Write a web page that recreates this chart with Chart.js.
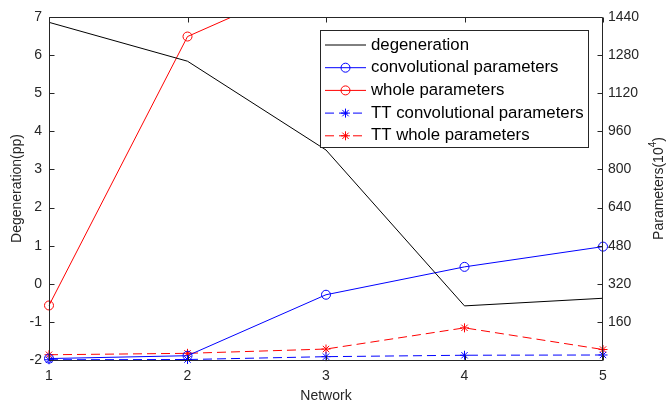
<!DOCTYPE html>
<html>
<head>
<meta charset="utf-8">
<script src="https://cdn.jsdelivr.net/npm/chart.js@4.4.0/dist/chart.umd.min.js"></script>
<style>
	html, body { margin: 0; padding: 0; background: #fff; }
	canvas { display: block; }
</style>
</head>
<body>
<canvas id="myChart" width="667" height="403"></canvas>
<script>
// values
let networks = ['1', '2', '3', '4', '5'];
let degeneration = [6.86, 5.84, 3.51, -0.58, -0.38];          // left axis (pp)
let convParams = [6, 18, 274, 391, 476];                        // right axis (10^4)
let wholeParams = [229, 1358, 1615, 1900, 2100];                // leaves the plot after 2
let ttConvParams = [1, 2, 14, 20, 21];
let ttWholeParams = [22, 28, 46, 135, 44];

let degenRange = [-2, 7, 1];      // min, max, step
let paramRange = [0, 1440, 160];

const axisColor = '#262626';
const fontFamily = '"Liberation Sans", Arial, Helvetica, sans-serif';

// MATLAB style box, inward ticks and legend
const matlabFrame = {
	id: 'matlabFrame',
	afterDraw(chart) {
		const { ctx, chartArea: a, scales } = chart;
		const L = a.left + 0.5, R = a.right - 0.5, T = a.top + 0.5, B = a.bottom + 0.5;
		ctx.save();
		ctx.strokeStyle = axisColor;
		ctx.lineWidth = 1;
		ctx.beginPath();
		ctx.rect(L, T, R - L, B - T);
		ctx.stroke();

		ctx.beginPath();
		scales.x.ticks.forEach((t, i) => {
			let px = Math.round(scales.x.getPixelForTick(i)) + 0.5;
			ctx.moveTo(px, B); ctx.lineTo(px, B - 5);
			ctx.moveTo(px, T); ctx.lineTo(px, T + 5);
		});
		scales.y.ticks.forEach(t => {
			let py = Math.round(scales.y.getPixelForValue(t.value)) + 0.5;
			ctx.moveTo(L, py); ctx.lineTo(L + 5, py);
		});
		scales.y1.ticks.forEach(t => {
			let py = Math.round(scales.y1.getPixelForValue(t.value)) + 0.5;
			ctx.moveTo(R, py); ctx.lineTo(R - 5, py);
		});
		ctx.stroke();

		// right axis title with superscript
		ctx.fillStyle = axisColor;
		ctx.translate(659, (a.top + a.bottom) / 2);
		ctx.rotate(-Math.PI / 2);
		ctx.textBaseline = 'middle';
		ctx.textAlign = 'left';
		ctx.font = '14px ' + fontFamily;
		let t1 = 'Parameters(10', t3 = ')';
		let w1 = ctx.measureText(t1).width, w3 = ctx.measureText(t3).width;
		ctx.font = '10px ' + fontFamily;
		let w2 = ctx.measureText('4').width;
		let x0 = -(w1 + w2 + w3) / 2;
		ctx.font = '14px ' + fontFamily;
		ctx.fillText(t1, x0, 0);
		ctx.fillText(t3, x0 + w1 + w2, 0);
		ctx.font = '10px ' + fontFamily;
		ctx.fillText('4', x0 + w1, -6);
		ctx.restore();

		// legend
		const box = { x: 320.5, y: 30.5, w: 268, h: 117 };
		ctx.save();
		ctx.fillStyle = '#fff';
		ctx.fillRect(box.x, box.y, box.w, box.h);
		ctx.strokeStyle = axisColor;
		ctx.lineWidth = 1;
		ctx.strokeRect(box.x, box.y, box.w, box.h);
		ctx.font = '16.8px ' + fontFamily;
		ctx.textBaseline = 'middle';
		chart.data.datasets.forEach((ds, i) => {
			let cy = 45 + i * 22.7;
			ctx.strokeStyle = ds.borderColor;
			ctx.lineWidth = 1;
			ctx.setLineDash(ds.borderDash || []);
			ctx.beginPath();
			ctx.moveTo(325, cy); ctx.lineTo(366, cy);
			ctx.stroke();
			ctx.setLineDash([]);
			if (ds.pointRadius > 0) {
				let r = ds.pointRadius, d = r * Math.SQRT1_2, mx = 345.5;
				ctx.beginPath();
				if (ds.pointStyle === 'circle') {
					ctx.arc(mx, cy, r, 0, Math.PI * 2);
				} else {
					ctx.moveTo(mx - r, cy); ctx.lineTo(mx + r, cy);
					ctx.moveTo(mx, cy - r); ctx.lineTo(mx, cy + r);
					ctx.moveTo(mx - d, cy - d); ctx.lineTo(mx + d, cy + d);
					ctx.moveTo(mx - d, cy + d); ctx.lineTo(mx + d, cy - d);
				}
				ctx.stroke();
			}
			ctx.fillStyle = '#000';
			ctx.fillText(ds.label, 371, cy);
		});
		ctx.restore();
	}
};

function makeSet(label, data, color, axis, style, dashed) {
	return {
		label: label,
		data: data,
		yAxisID: axis,
		borderColor: color,
		backgroundColor: 'rgba(0,0,0,0)',
		borderWidth: 1,
		borderDash: dashed ? [9, 5] : [],
		pointStyle: style || 'circle',
		pointRadius: style ? 4.5 : 0,
		pointHoverRadius: style ? 4.5 : 0,
		pointBorderColor: color,
		pointBackgroundColor: 'rgba(0,0,0,0)',
		pointBorderWidth: 1,
		tension: 0,
		clip: { left: 8, right: 8, top: 0, bottom: 8 }
	};
}

let ctx = document.getElementById('myChart');
let myLineChart = new Chart(ctx, {
	type: 'line',
	data: {
		labels: networks,
		datasets: [
			makeSet('degeneration', degeneration, '#000000', 'y', null, false),
			makeSet('convolutional parameters', convParams, '#0000ff', 'y1', 'circle', false),
			makeSet('whole parameters', wholeParams, '#ff0000', 'y1', 'circle', false),
			makeSet('TT convolutional parameters', ttConvParams, '#0000ff', 'y1', 'star', true),
			makeSet('TT whole parameters', ttWholeParams, '#ff0000', 'y1', 'star', true)
		]
	},
	options: {
		responsive: false,
		animation: false,
		events: [],
		layout: { padding: { top: 17, left: 0, right: 0, bottom: 0 } },
		plugins: { legend: { display: false }, tooltip: { enabled: false } },
		scales: {
			x: {
				type: 'category',
				offset: false,
				grid: { display: false, drawTicks: false, tickLength: 0 },
				border: { display: false },
				ticks: { color: axisColor, font: { family: fontFamily, size: 14 }, padding: 8, maxRotation: 0 },
				title: { display: true, text: 'Network', color: axisColor, font: { family: fontFamily, size: 14, lineHeight: 1 }, padding: { top: 0, bottom: 0 } },
				afterFit: s => { s.height = 43; }
			},
			y: {
				position: 'left',
				min: degenRange[0],
				max: degenRange[1],
				grid: { display: false, drawTicks: false, tickLength: 0 },
				border: { display: false },
				ticks: { stepSize: degenRange[2], color: axisColor, font: { family: fontFamily, size: 14 }, padding: 7 },
				title: { display: true, text: 'Degeneration(pp)', color: axisColor, font: { family: fontFamily, size: 14, lineHeight: 1 }, padding: { top: 10, bottom: 0 } },
				afterFit: s => { s.width = 49; }
			},
			y1: {
				position: 'right',
				min: paramRange[0],
				max: paramRange[1],
				grid: { display: false, drawTicks: false, tickLength: 0 },
				border: { display: false },
				ticks: {
					stepSize: paramRange[2], color: axisColor, font: { family: fontFamily, size: 14 }, padding: 5,
					callback: v => v === 0 ? '' : v
				},
				afterFit: s => { s.width = 64; }
			}
		}
	},
	plugins: [matlabFrame]
});
</script>
</body>
</html>
